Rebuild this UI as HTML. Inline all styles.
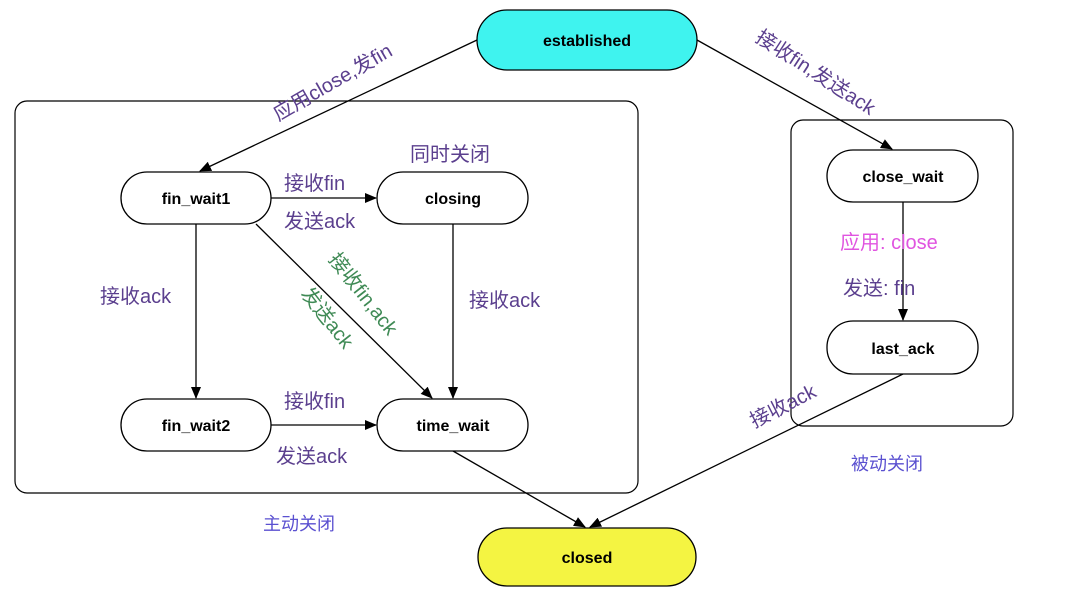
<!DOCTYPE html>
<html><head><meta charset="utf-8"><style>
html,body{margin:0;padding:0;background:#fff;}
svg{display:block;}
text{font-family:"Liberation Sans","Noto Sans CJK SC",sans-serif;}
.n{font-size:16px;font-weight:bold;fill:#000;text-anchor:middle;}
.l{font-size:20px;fill:#5b3f8e;}
.g{font-size:20px;fill:#3f8a55;}
</style></head><body>
<svg width="1080" height="602" viewBox="0 0 1080 602">
<defs><marker id="a" markerWidth="12" markerHeight="10" refX="11" refY="5" orient="auto" markerUnits="userSpaceOnUse"><path d="M0,0 L12,5 L0,10 Z" fill="#000"/></marker></defs>
<rect x="15" y="101" width="623" height="392" rx="12" fill="none" stroke="#000" stroke-width="1.2"/>
<rect x="791" y="120" width="222" height="306" rx="12" fill="none" stroke="#000" stroke-width="1.2"/>
<g stroke="#000" stroke-width="1.3" fill="none" marker-end="url(#a)">
<line x1="477" y1="40" x2="200" y2="171"/>
<line x1="697" y1="40" x2="892" y2="149"/>
<line x1="271" y1="198" x2="376" y2="198"/>
<line x1="196" y1="224" x2="196" y2="398"/>
<line x1="256" y1="224" x2="432" y2="398"/>
<line x1="453" y1="224" x2="453" y2="398"/>
<line x1="271" y1="425" x2="376" y2="425"/>
<line x1="453" y1="451" x2="585" y2="527"/>
<line x1="903" y1="202" x2="903" y2="320"/>
<line x1="903" y1="374" x2="590" y2="527"/>
</g>
<rect x="477" y="10" width="220" height="60" rx="30" fill="#3ff3ef" stroke="#000" stroke-width="1.3"/>
<text class="n" x="587" y="46">established</text>
<rect x="478" y="528" width="218" height="58" rx="29" fill="#f4f442" stroke="#000" stroke-width="1.3"/>
<text class="n" x="587" y="563">closed</text>
<g fill="#fff" stroke="#000" stroke-width="1.3">
<rect x="121" y="172" width="150" height="52" rx="26"/>
<rect x="377" y="172" width="151" height="52" rx="26"/>
<rect x="121" y="399" width="150" height="52" rx="26"/>
<rect x="377" y="399" width="151" height="52" rx="26"/>
<rect x="827" y="150" width="151" height="52" rx="26"/>
<rect x="827" y="321" width="151" height="53" rx="26"/>
</g>
<text class="n" x="196" y="204">fin_wait1</text>
<text class="n" x="453" y="204">closing</text>
<text class="n" x="196" y="431">fin_wait2</text>
<text class="n" x="453" y="431">time_wait</text>
<text class="n" x="903" y="182">close_wait</text>
<text class="n" x="903" y="354">last_ack</text>
<text class="l" transform="translate(336,88) rotate(-30)" text-anchor="middle">应用close,发fin</text>
<text class="l" transform="translate(812,78) rotate(33)" text-anchor="middle">接收fin,发送ack</text>
<text class="l" transform="translate(786,412) rotate(-27)" text-anchor="middle">接收ack</text>
<text class="g" transform="translate(358,298) rotate(52)" text-anchor="middle">接收fin,ack</text>
<text class="g" transform="translate(322,322) rotate(52)" text-anchor="middle">发送ack</text>
<text class="l" x="410" y="161">同时关闭</text>
<text class="l" x="284" y="190">接收fin</text>
<text class="l" x="284" y="228">发送ack</text>
<text class="l" x="100" y="303">接收ack</text>
<text class="l" x="469" y="307">接收ack</text>
<text class="l" x="284" y="408">接收fin</text>
<text class="l" x="276" y="463">发送ack</text>
<text x="840" y="249" style="font-size:20px;fill:#e055e0">应用: close</text>
<text class="l" x="843" y="295">发送: fin</text>
<text x="263" y="530" style="font-size:18px;fill:#5a50d0">主动关闭</text>
<text x="851" y="470" style="font-size:18px;fill:#5a50d0">被动关闭</text>
</svg>
</body></html>
